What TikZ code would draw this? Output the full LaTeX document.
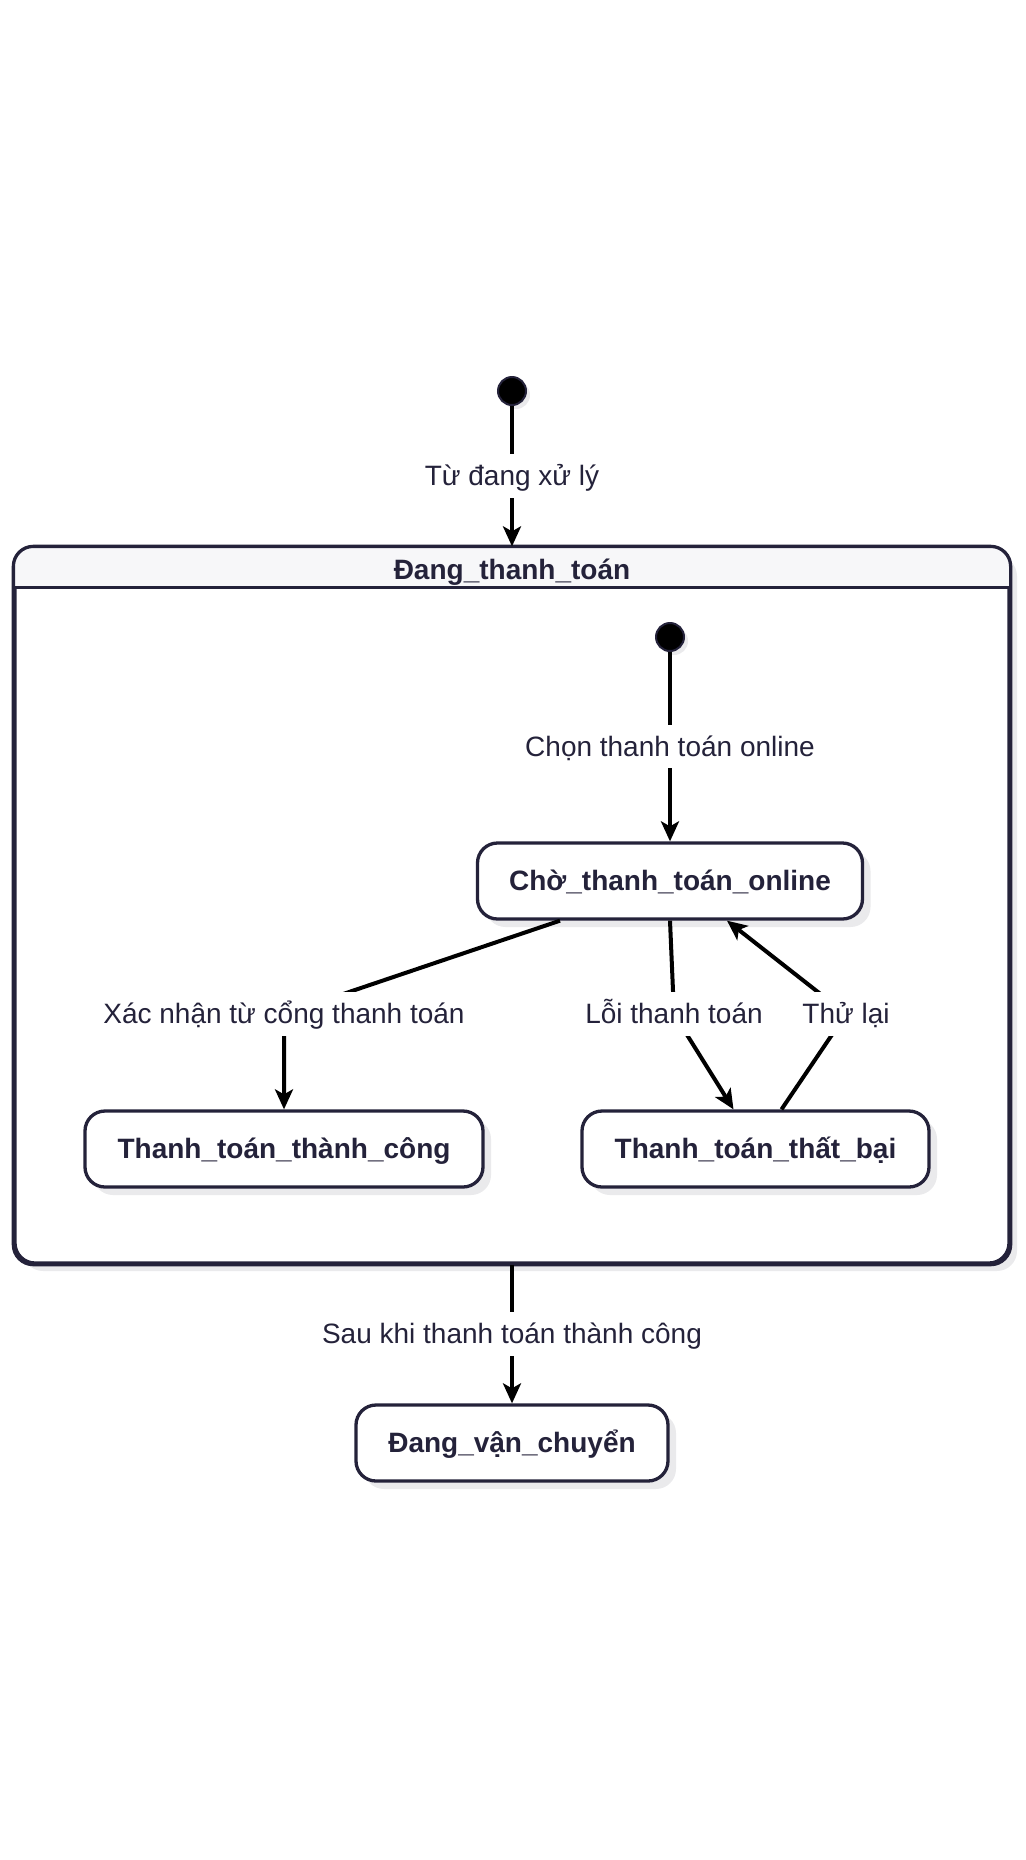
\documentclass[tikz,border=0pt]{standalone}
\usepackage{fontspec}
\setmainfont{Liberation Sans}
\usetikzlibrary{arrows.meta,shadows}
\definecolor{navy}{RGB}{36,34,58}
\definecolor{headfill}{RGB}{247,247,249}
\definecolor{shade}{RGB}{234,234,236}
\newcommand\lblsize{\fontsize{14}{17}\selectfont}
\begin{document}
\begin{tikzpicture}[x=0.5pt,y=-0.5pt,
    every node/.style={text height=12.7pt, text depth=3pt},
    state/.style={draw=navy, line width=1.65pt, fill=white, rounded corners=10pt,
      minimum height=38pt, text=navy, font=\lblsize\bfseries,
      general shadow={fill=shade, shadow xshift=4pt, shadow yshift=-4pt}},
    start/.style={circle, fill=black, draw=navy, line width=1pt, minimum size=14pt, inner sep=0pt,
      text height=, text depth=,
      general shadow={fill=shade, shadow xshift=2pt, shadow yshift=-2pt}},
    trans/.style={fill=white, text=navy, inner sep=3pt, font=\lblsize},
    link/.style={line width=2pt, -{Stealth[length=10pt,width=9pt,inset=2.5pt]}}]
    \useasboundingbox (0,0) rectangle (1026,1860);
    \node[start] (init) at (512,391) {};
    \node[state, text height=, text depth=, minimum width=497pt, minimum height=357.5pt] (pay) at (512,905.5) {};
    \begin{scope}
    \clip[rounded corners=10pt] (pay.south west) rectangle (pay.north east);
    \fill[headfill] (pay.north west) rectangle ([yshift=-20.5pt]pay.north east);
    \end{scope}
    \draw[navy, line width=1.65pt, rounded corners=10pt] (pay.south west) rectangle (pay.north east);
    \draw[navy, line width=1.65pt] ([yshift=-20.5pt]pay.north west) -- ([yshift=-20.5pt]pay.north east);
    \node[text=navy, font=\lblsize\bfseries] (payhead) at (512,570) {Đang\_thanh\_toán};
    \node[start] (init2) at (670,637) {};
    \node[state, minimum width=192.5pt] (wait) at (670,881) {Chờ\_thanh\_toán\_online};
    \node[state, minimum width=199pt] (ok) at (284,1149) {Thanh\_toán\_thành\_công};
    \node[state, minimum width=173.5pt] (fail) at (755.5,1149) {Thanh\_toán\_thất\_bại};
    \node[state, minimum width=156pt] (ship) at (512,1443) {Đang\_vận\_chuyển};
    \coordinate (okbend) at (284,1014);
    \coordinate (failbend) at (674,1014);
    \coordinate (retrybend) at (846,1014);
    \draw[link] (init) -- (pay.north) node[trans, midway] {Từ đang xử lý};
    \draw[link] (init2) -- (wait.north) node[trans, midway] {Chọn thanh toán online};
    \draw[link] ([xshift=-55pt]wait.south) -- (okbend) node[trans] {Xác nhận từ cổng thanh toán} -- (ok.north);
    \draw[link] (wait.south) -- (failbend) node[trans] {Lỗi thanh toán} -- ([xshift=-11pt]fail.north);
    \draw[link] ([xshift=13pt]fail.north) -- (retrybend) node[trans] {Thử lại} -- ([xshift=28.5pt]wait.south);
    \draw[link] (pay.south) -- (ship.north) node[trans, midway] {Sau khi thanh toán thành công};
\end{tikzpicture}
\end{document}
